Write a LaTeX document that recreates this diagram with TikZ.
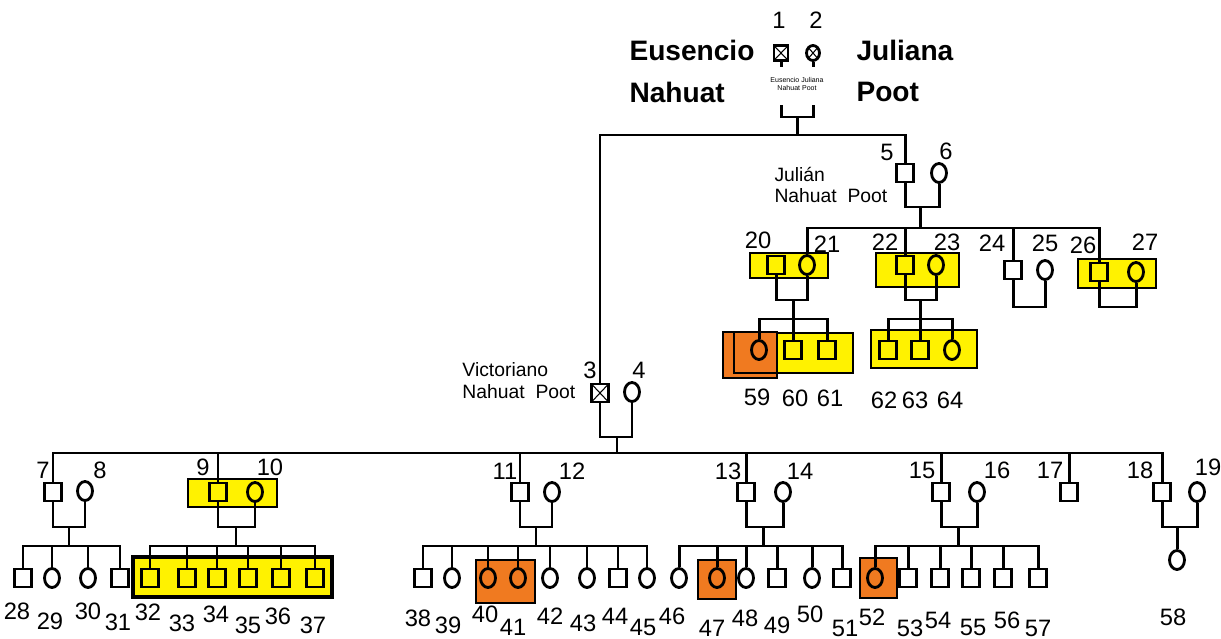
\documentclass[tikz,border=0pt]{standalone}
\usepackage{fontspec}
\setmainfont{Liberation Sans}
\usetikzlibrary{shapes.geometric,positioning}
\definecolor{pedyellow}{HTML}{FFF200}
\definecolor{pedorange}{HTML}{F07A20}

\begin{document}
\begin{tikzpicture}[x=0.02cm, y=-0.02cm, line width=1.7pt,
  male/.style={draw, rectangle, line width=1.6pt, minimum width=0.34cm, minimum height=0.36cm, inner sep=0pt},
  female/.style={draw, ellipse, line width=1.6pt, minimum width=0.3cm, minimum height=0.38cm, inner sep=0pt},
  deceased/.style={path picture={\draw[line width=0.6pt] (path picture bounding box.south west) -- (path picture bounding box.north east) (path picture bounding box.north west) -- (path picture bounding box.south east);}},
  num/.style={font=\fontsize{13.5}{14}\selectfont, inner sep=0pt},
  namelab/.style={font=\fontsize{11}{11}\selectfont, anchor=west, inner sep=0pt},
  bigname/.style={font=\fontsize{16}{17}\selectfont\bfseries, anchor=west, inner sep=0pt},
  ybox/.style={fill=pedyellow, draw=black, line width=0.7pt},
  obox/.style={fill=pedorange, draw=black, line width=0.7pt}]

\useasboundingbox (0,0) rectangle (1221,639);

% ---- Highlight boxes (behind symbols) ----
\draw[ybox] (750,253) rectangle (828,278);
\draw[ybox] (876,253) rectangle (959,287);
\draw[ybox] (1078,259) rectangle (1156,288);
\draw[obox] (723,332) rectangle (777,378);
\draw[line width=0.7pt] (734,332) rectangle (777,373);
\draw[ybox] (777,333) rectangle (853,373);
\draw[ybox] (871,330) rectangle (977,368);
\draw[ybox] (188,479) rectangle (277,507);
\draw[fill=pedyellow, line width=2.2pt] (133,557) rectangle (332,597);
\draw[obox] (476,560) rectangle (535,603);
\draw[obox] (698,560) rectangle (736,599);
\draw[obox] (860,558) rectangle (897,598);

% ---- Generation I ----
\node[male, deceased, minimum width=0.28cm, minimum height=0.29cm] (p1) at (781,53) {};
\node[female, deceased, minimum width=0.26cm, minimum height=0.3cm] (p2) at (813,53) {};
\node[num] (l1) at (779,20) {1};
\node[num] (l2) at (816,20) {2};
\node[bigname] (n1a) at (628,50) {Eusencio};
\node[bigname] (n1b) at (628,92) {Nahuat};
\node[bigname] (n2a) at (855,50) {Juliana};
\node[bigname] (n2b) at (855,92) {Poot};
\node[font=\fontsize{4}{4.5}\selectfont, inner sep=0pt, align=center] (n12) at (797,84) {Eusencio Juliana\\Nahuat Poot};
\coordinate (b1) at (781,105);
\coordinate (b2) at (813,105);
\coordinate (m12) at (797,117);
\coordinate (s12) at (797,135);
\draw (p1.south) -- ++(0,5);
\draw (p2.south) -- ++(0,5);
\draw (b1) |- (m12) -| (b2);
\draw (m12) -- (s12);

% ---- Generation II ----
\node[male, deceased] (p3) at (600,393) {};
\node[female] (p4) at (632,392) {};
\node[male] (p5) at (905,173) {};
\node[female] (p6) at (939,173) {};
\node[num] (l3) at (590,370) {3};
\node[num] (l4) at (639,370) {4};
\node[num] (l5) at (887,152) {5};
\node[num] (l6) at (946,151) {6};
\node[namelab] (n3a) at (461,370) {Victoriano};
\node[namelab] (n3b) at (461,392) {Nahuat\ \ Poot};
\node[namelab] (n5a) at (773,174) {Julián};
\node[namelab] (n5b) at (773,196) {Nahuat\ \ Poot};
\draw (p3) |- (s12) -| (p5);

% couple 5-6 and their children
\coordinate (m56) at (920,207);
\coordinate (s56) at (920,228);
\draw (p5) |- (m56) -| (p6);
\draw (m56) -- (s56);

% couple 3-4 and their children
\coordinate (m34) at (617,437);
\coordinate (s34) at (617,453);
\draw (p3) |- (m34) -| (p4);
\draw (m34) -- (s34);

% ---- Generation III (right branch) ----
\node[male] (p20) at (776,265) {};
\node[female] (p21) at (807,265) {};
\node[male] (p22) at (905,265) {};
\node[female] (p23) at (936,265) {};
\node[male] (p24) at (1013,270) {};
\node[female] (p25) at (1045,270) {};
\node[male] (p26) at (1099,272) {};
\node[female] (p27) at (1136,272) {};
\draw (p21) |- (s56) -| (p26);
\foreach \c in {p22,p24}
  \draw (\c) -- (\c |- s56);

\coordinate (m2021) at (793,300);
\coordinate (s2021) at (793,319);
\draw (p20) |- (m2021) -| (p21);
\draw (m2021) -- (s2021);
\coordinate (m2223) at (920,300);
\coordinate (s2223) at (920,319);
\draw (p22) |- (m2223) -| (p23);
\draw (m2223) -- (s2223);
\coordinate (m2425) at (1029,307);
\draw (p24) |- (m2425) -| (p25);
\coordinate (m2627) at (1118,307);
\draw (p26) |- (m2627) -| (p27);

% ---- Generation IV (right branch) ----
\node[female] (p59) at (759,350) {};
\node[male] (p60) at (793,350) {};
\node[male] (p61) at (827,350) {};
\node[male] (p62) at (888,350) {};
\node[male] (p63) at (920,350) {};
\node[female] (p64) at (952,350) {};
\draw (p59) |- (s2021) -| (p61);
\draw (p60) -- (s2021);
\draw (p62) |- (s2223) -| (p64);
\draw (p63) -- (s2223);

% ---- Generation III (left branch) ----
\node[male] (p7) at (53,492) {};
\node[female] (p8) at (85,491) {};
\node[male] (p9) at (218,492) {};
\node[female] (p10) at (255,492) {};
\node[male] (p11) at (520,492) {};
\node[female] (p12) at (552,492) {};
\node[male] (p13) at (746,492) {};
\node[female] (p14) at (783,492) {};
\node[male] (p15) at (941,492) {};
\node[female] (p16) at (977,492) {};
\node[male] (p17) at (1069,492) {};
\node[male] (p18) at (1162,492) {};
\node[female] (p19) at (1197,492) {};
\draw (p7) |- (s34) -| (p18);
\foreach \c in {p9,p11,p13,p15,p17}
  \draw (\c) -- (\c |- s34);

% couples of generation III
\foreach \a/\b/\mx in {p7/p8/69, p9/p10/236, p11/p12/536, p13/p14/763, p15/p16/958, p18/p19/1177} {
  \coordinate (m\a) at (\mx,527);
  \coordinate (s\a) at (\mx,546);
  \draw (\a) |- (m\a) -| (\b);
}
\foreach \a in {p7,p9,p11,p13,p15}
  \draw (m\a) -- (s\a);

% ---- Generation IV (left branch) ----
\foreach \n/\x/\s in {28/23/male, 29/52/female, 30/88/female, 31/120/male,
    32/150/male, 33/187/male, 34/217/male, 35/248/male, 36/281/male, 37/315/male,
    38/423/male, 39/452/female, 40/488/female, 41/518/female, 42/550/female,
    43/587/female, 44/618/male, 45/647/female,
    46/679/female, 47/717/female, 48/746/female, 49/777/male, 50/812/female, 51/842/male,
    52/875/female, 53/908/male, 54/940/male, 55/971/male, 56/1003/male, 57/1038/male}
  \node[\s] (p\n) at (\x,578) {};
\node[female] (p58) at (1177,560) {};

\draw (p28) |- (sp7) -| (p31);
\foreach \c in {p29,p30} \draw (\c) -- (\c |- sp7);
\draw (p32) |- (sp9) -| (p37);
\foreach \c in {p33,p34,p35,p36} \draw (\c) -- (\c |- sp9);
\draw (p38) |- (sp11) -| (p45);
\foreach \c in {p39,p40,p41,p42,p43,p44} \draw (\c) -- (\c |- sp11);
\draw (p46) |- (sp13) -| (p51);
\foreach \c in {p47,p48,p49,p50} \draw (\c) -- (\c |- sp13);
\draw (p52) |- (sp15) -| (p57);
\foreach \c in {p53,p54,p55,p56} \draw (\c) -- (\c |- sp15);
\draw (mp18) -- (p58);

% ---- Numbers ----
\foreach \t/\x/\y in {7/43/470, 8/100/470, 9/203/467, 10/270/467, 11/505/471, 12/572/471,
    13/728/471, 14/800/471, 15/922/470, 16/997/470, 17/1050/470, 18/1140/470, 19/1208/467,
    20/758/240, 21/827/244, 22/885/242, 23/947/242, 24/992/243, 25/1045/243, 26/1083/245, 27/1145/242,
    59/757/397, 60/795/398, 61/830/398, 62/884/400, 63/915/400, 64/950/400,
    28/17/611, 29/50/621, 30/88/611, 31/118/622, 32/148/612, 33/182/623, 34/216/614, 35/248/625,
    36/278/616, 37/313/625, 38/418/618, 39/448/625, 40/485/614, 41/513/627, 42/550/616, 43/583/623,
    44/615/616, 45/643/627, 46/672/616, 47/712/628, 48/745/618, 49/777/625, 50/810/614, 51/845/628,
    52/872/617, 53/910/628, 54/938/620, 55/973/627, 56/1007/620, 57/1038/628, 58/1173/617}
  \node[num] (l\t) at (\x,\y) {\t};

\end{tikzpicture}
\end{document}
